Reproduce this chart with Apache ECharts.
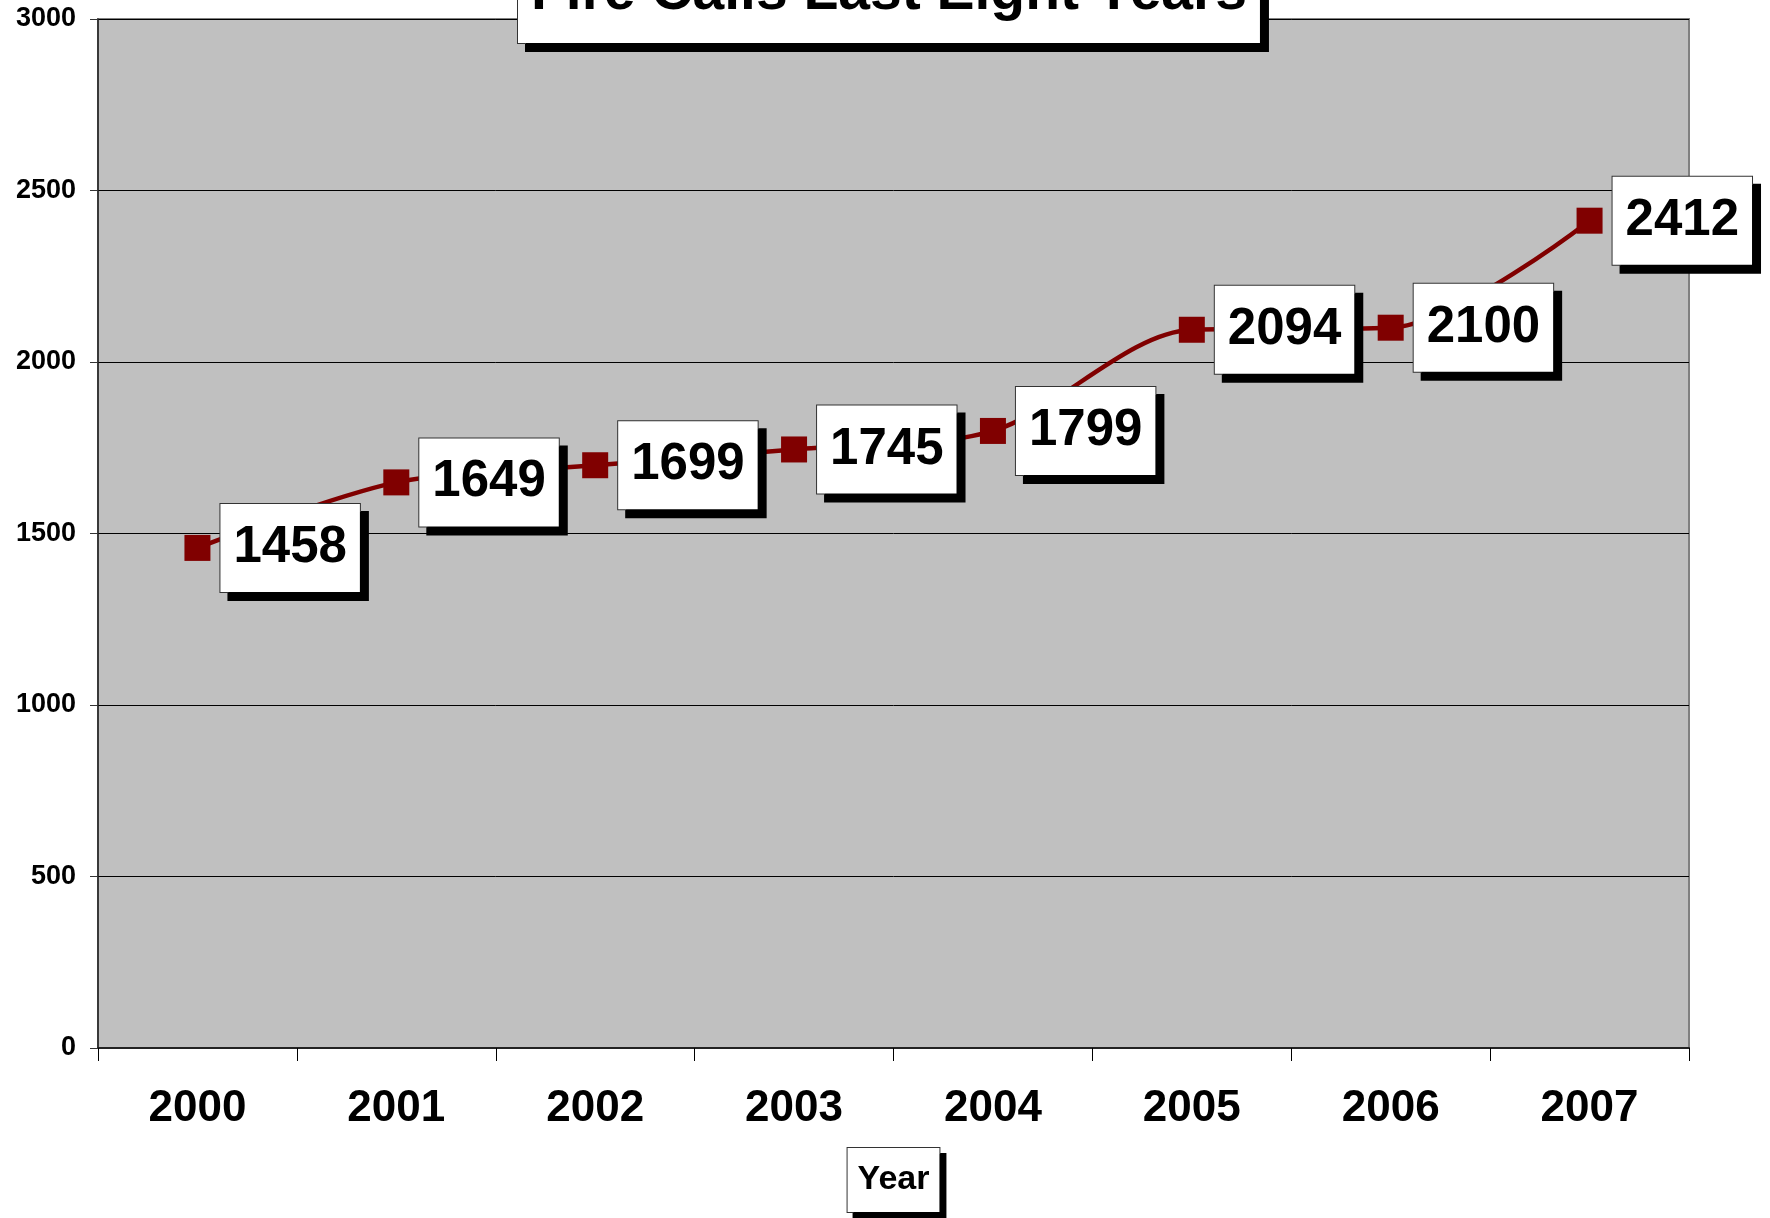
<!DOCTYPE html>
<html>
<head>
<meta charset="utf-8">
<script src="https://cdn.jsdelivr.net/npm/echarts@6/dist/echarts.min.js"></script>
<style>
  html, body { margin: 0; padding: 0; background: #ffffff; }
  #chart { width: 1770px; height: 1218px; }
</style>
</head>
<body>
<div id="chart"></div>
<script>
const titleText = 'Fire Calls Last Eight Years';
const axisName = 'Year';
const years = ['2000', '2001', '2002', '2003', '2004', '2005', '2006', '2007'];
const calls = [1458, 1649, 1699, 1745, 1799, 2094, 2100, 2412];
const yTicks = [0, 500, 1000, 1500, 2000, 2500, 3000];

const FONT = '"Liberation Sans", Arial, sans-serif';
const chart = echarts.init(document.getElementById('chart'), null, { renderer: 'canvas' });

chart.setOption({
  backgroundColor: '#ffffff',
  animation: false,
  graphic: [{
    type: 'text',
    left: 517,
    top: -58,
    z: 100,
    style: {
      text: titleText,
      font: 'bold 57px ' + FONT,
      lineHeight: 64,
      fill: '#000000',
      backgroundColor: '#ffffff',
      borderColor: '#333333',
      borderWidth: 1,
      padding: [18, 13, 18, 13],
      shadowColor: '#000000',
      shadowBlur: 0,
      shadowOffsetX: 8,
      shadowOffsetY: 8
    }
  }],
  grid: {
    left: 98,
    right: 81,
    top: 19,
    bottom: 170,
    show: true,
    backgroundColor: '#c0c0c0',
    borderColor: '#808080',
    borderWidth: 2
  },
  xAxis: {
    type: 'category',
    data: years,
    boundaryGap: true,
    name: axisName,
    nameLocation: 'middle',
    nameGap: 100,
    nameTextStyle: {
      fontFamily: FONT,
      fontWeight: 'bold',
      fontSize: 34,
      lineHeight: 40,
      color: '#000000',
      backgroundColor: '#ffffff',
      borderColor: '#333333',
      borderWidth: 1,
      padding: [12, 10, 12, 10],
      shadowColor: '#000000',
      shadowBlur: 0,
      shadowOffsetX: 6,
      shadowOffsetY: 6
    },
    axisLine: { show: true, lineStyle: { color: '#222222', width: 2 } },
    axisTick: { show: true, length: 13, lineStyle: { color: '#000000', width: 1 } },
    axisLabel: {
      fontFamily: FONT,
      fontWeight: 'bold',
      fontSize: 44,
      color: '#000000',
      margin: 39,
      interval: 0
    },
    splitLine: { show: false }
  },
  yAxis: {
    type: 'value',
    min: yTicks[0],
    max: yTicks[yTicks.length - 1],
    interval: 500,
    axisLine: { show: true, lineStyle: { color: '#222222', width: 1.5 } },
    axisTick: { show: true, length: 8, lineStyle: { color: '#333333', width: 1 } },
    axisLabel: {
      fontFamily: FONT,
      fontWeight: 'bold',
      fontSize: 27,
      color: '#000000',
      margin: 22,
      formatter: function (v) { return String(v); }
    },
    splitLine: { show: true, lineStyle: { color: '#000000', width: 1 } }
  },
  series: [{
    type: 'line',
    data: calls,
    smooth: 0.3,
    symbol: 'rect',
    symbolSize: 26,
    lineStyle: { color: '#800000', width: 4.5 },
    itemStyle: { color: '#800000' },
    label: {
      show: true,
      position: 'right',
      distance: 10,
      fontFamily: FONT,
      fontWeight: 'bold',
      fontSize: 51,
      lineHeight: 58,
      color: '#000000',
      backgroundColor: '#ffffff',
      borderColor: '#333333',
      borderWidth: 1,
      padding: [15, 13, 15, 13],
      shadowColor: '#000000',
      shadowBlur: 0,
      shadowOffsetX: 8,
      shadowOffsetY: 8,
      textBorderWidth: 0
    },
    z: 5
  }]
});
</script>
</body>
</html>
